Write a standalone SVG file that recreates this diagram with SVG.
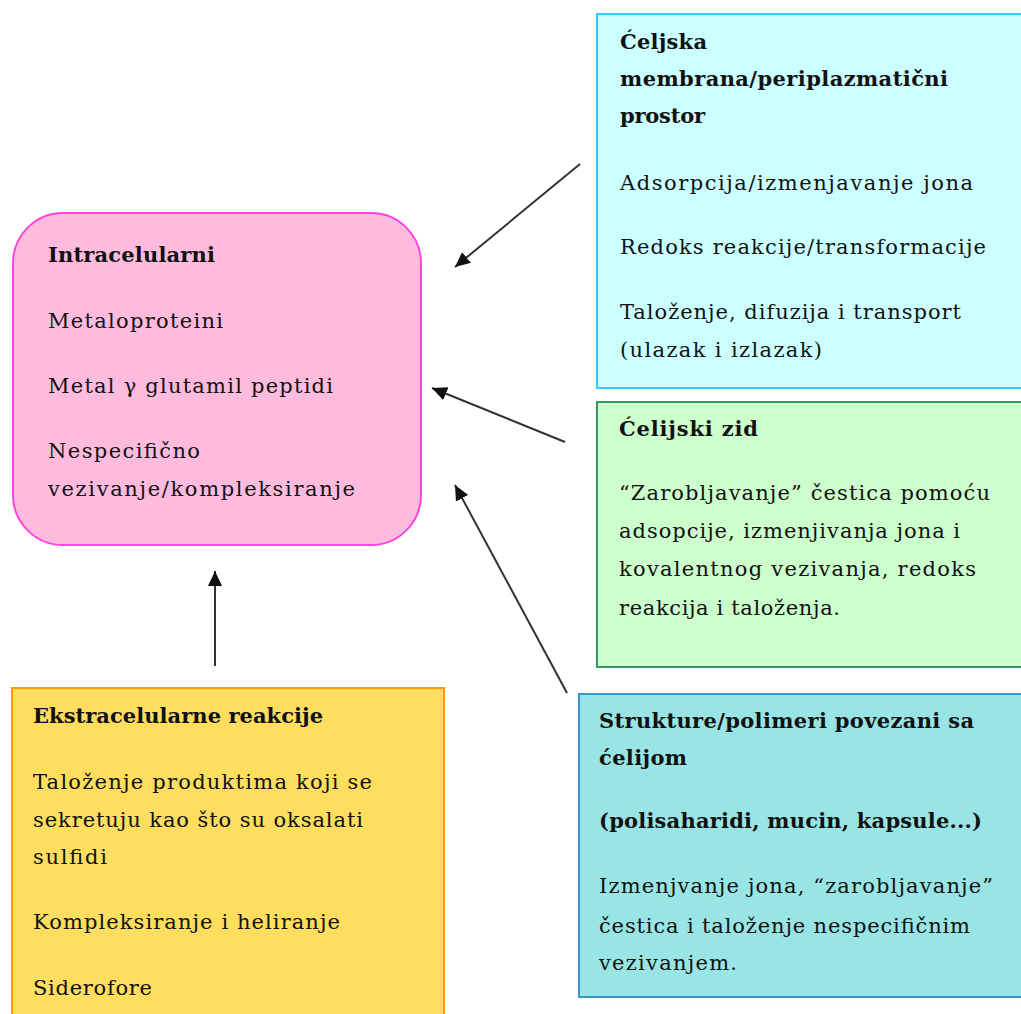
<svg xmlns="http://www.w3.org/2000/svg" width="1021" height="1014" viewBox="0 0 1021 1014">
<style>
text{font-family:"DejaVu Serif","Liberation Serif",serif;font-size:21px;fill:#111}
.b{font-weight:bold}
.box{stroke-width:2}
.conn{stroke:#333;stroke-width:2;fill:none}
</style>
<defs>
<marker id="ah" markerUnits="userSpaceOnUse" markerWidth="16" markerHeight="16" refX="15" refY="8" orient="auto" viewBox="0 0 16 16">
<path d="M0,1 L15,8 L0,15 z" fill="#111"/>
</marker>
</defs>
<rect width="1021" height="1014" fill="#fff"/>
<g id="intracelularni">
<rect class="box" x="13" y="213" width="408" height="332" rx="50" ry="50" fill="#ffbbdd" stroke="#ff44dd"/>
<text class="b" x="48" y="262" textLength="167" lengthAdjust="spacing">Intracelularni</text>
<text x="48" y="328" textLength="175" lengthAdjust="spacing">Metaloproteini</text>
<text x="48" y="393" textLength="285" lengthAdjust="spacing">Metal γ glutamil peptidi</text>
<text x="48" y="458" textLength="152" lengthAdjust="spacing">Nespecifično</text>
<text x="48" y="496" textLength="307" lengthAdjust="spacing">vezivanje/kompleksiranje</text>
</g>
<g id="membrana">
<rect class="box" x="597" y="14" width="440" height="374" fill="#ccffff" stroke="#33ccff"/>
<text class="b" x="620" y="49" textLength="87" lengthAdjust="spacing">Ćeljska</text>
<text class="b" x="620" y="86" textLength="328" lengthAdjust="spacing">membrana/periplazmatični</text>
<text class="b" x="620" y="123" textLength="85" lengthAdjust="spacing">prostor</text>
<text x="620" y="190" textLength="353" lengthAdjust="spacing">Adsorpcija/izmenjavanje jona</text>
<text x="620" y="254" textLength="366" lengthAdjust="spacing">Redoks reakcije/transformacije</text>
<text x="620" y="319" textLength="341" lengthAdjust="spacing">Taloženje, difuzija i transport</text>
<text x="620" y="357" textLength="202" lengthAdjust="spacing">(ulazak i izlazak)</text>
</g>
<g id="zid">
<rect class="box" x="597" y="402" width="440" height="265" fill="#ccffcc" stroke="#339966"/>
<text class="b" x="619" y="436" textLength="139" lengthAdjust="spacing">Ćelijski zid</text>
<text x="619" y="500" textLength="371" lengthAdjust="spacing">“Zarobljavanje” čestica pomoću</text>
<text x="619" y="538" textLength="341" lengthAdjust="spacing">adsopcije, izmenjivanja jona i</text>
<text x="619" y="576" textLength="357" lengthAdjust="spacing">kovalentnog vezivanja, redoks</text>
<text x="619" y="615" textLength="221" lengthAdjust="spacing">reakcija i taloženja.</text>
</g>
<g id="strukture">
<rect class="box" x="579" y="694" width="460" height="303" fill="#99e5e5" stroke="#3399cc"/>
<text class="b" x="599" y="728" textLength="375" lengthAdjust="spacing">Strukture/polimeri povezani sa</text>
<text class="b" x="599" y="765" textLength="88" lengthAdjust="spacing">ćelijom</text>
<text class="b" x="599" y="828" textLength="383" lengthAdjust="spacing">(polisaharidi, mucin, kapsule...)</text>
<text x="599" y="893" textLength="394" lengthAdjust="spacing">Izmenjvanje jona, “zarobljavanje”</text>
<text x="599" y="933" textLength="371" lengthAdjust="spacing">čestica i taloženje nespecifičnim</text>
<text x="599" y="970" textLength="138" lengthAdjust="spacing">vezivanjem.</text>
</g>
<g id="ekstracelularne">
<rect class="box" x="12" y="688" width="432" height="340" fill="#ffdd5f" stroke="#ff9900"/>
<text class="b" x="33" y="723" textLength="290" lengthAdjust="spacing">Ekstracelularne reakcije</text>
<text x="33" y="789" textLength="339" lengthAdjust="spacing">Taloženje produktima koji se</text>
<text x="33" y="827" textLength="330" lengthAdjust="spacing">sekretuju kao što su oksalati</text>
<text x="33" y="864" textLength="74" lengthAdjust="spacing">sulfidi</text>
<text x="33" y="929" textLength="307" lengthAdjust="spacing">Kompleksiranje i heliranje</text>
<text x="33" y="995" textLength="119" lengthAdjust="spacing">Siderofore</text>
</g>
<g id="connectors">
<line class="conn" x1="580" y1="164" x2="455" y2="267" marker-end="url(#ah)"/>
<line class="conn" x1="565" y1="442" x2="432" y2="388" marker-end="url(#ah)"/>
<line class="conn" x1="567" y1="693" x2="455" y2="485" marker-end="url(#ah)"/>
<line class="conn" x1="215" y1="666" x2="215" y2="571" marker-end="url(#ah)"/>
</g>
</svg>
